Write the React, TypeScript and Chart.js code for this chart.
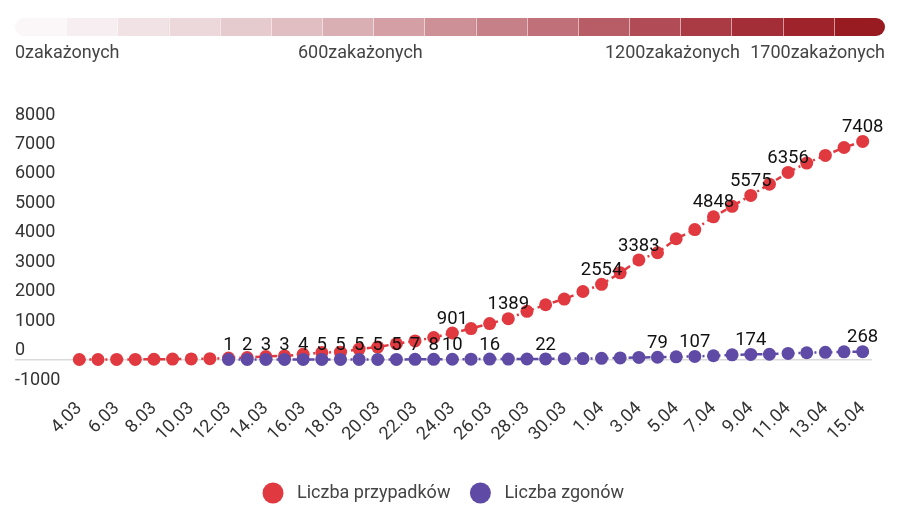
import React, { useEffect, useRef } from 'react';
import { Chart, registerables } from 'chart.js';

Chart.register(...registerables);

// ---- data ----
const dates = [
  '4.03', '5.03', '6.03', '7.03', '8.03', '9.03', '10.03', '11.03', '12.03', '13.03',
  '14.03', '15.03', '16.03', '17.03', '18.03', '19.03', '20.03', '21.03', '22.03', '23.03',
  '24.03', '25.03', '26.03', '27.03', '28.03', '29.03', '30.03', '31.03', '1.04', '2.04',
  '3.04', '4.04', '5.04', '6.04', '7.04', '8.04', '9.04', '10.04', '11.04', '12.04',
  '13.04', '14.04', '15.04',
];

const cases = [
  1, 1, 5, 5, 11, 16, 22, 31, 51, 68,
  104, 125, 177, 238, 251, 355, 425, 536, 634, 749,
  901, 1051, 1221, 1389, 1638, 1862, 2055, 2311, 2554, 2946,
  3383, 3627, 4102, 4413, 4848, 5205, 5575, 5955, 6356, 6674,
  6934, 7202, 7408,
];

const deaths = [
  null, null, null, null, null, null, null, null, 1, 2,
  3, 3, 4, 5, 5, 5, 5, 5, 7, 8,
  10, 14, 16, 17, 18, 22, 31, 33, 43, 57,
  71, 79, 94, 107, 129, 159, 174, 181, 208, 232,
  245, 263, 268,
];

const casesLabelDates = ['24.03', '27.03', '1.04', '3.04', '7.04', '9.04', '11.04', '15.04'];
const deathsLabelDates = [
  '12.03', '13.03', '14.03', '15.03', '16.03', '17.03', '18.03', '19.03', '20.03', '21.03',
  '22.03', '23.03', '24.03', '26.03', '29.03', '4.04', '6.04', '9.04', '15.04',
];

const seriesNames = ['Liczba przypadków', 'Liczba zgonów'];
const yTicks = { min: -1000, max: 8000, step: 1000 };

const scaleLabels = ['0zakażonych', '600zakażonych', '1200zakażonych', '1700zakażonych'];

// ---- styles ----
const RED = '#e0393f';
const PURPLE = '#5f4ba6';
const barColors = [
  '#fbf7f8', '#f6eef0', '#f1e3e5', '#ecd7da', '#e6cbce', '#e0bec2', '#daafb4', '#d4a0a6',
  '#cd9097', '#c68087', '#bf7078', '#b85d66', '#b14b55', '#aa3b45', '#a42e37', '#9e232a', '#971b20',
];
const scaleLabelLayout = [
  { x: 15, align: 'left' },
  { x: 298, align: 'left' },
  { x: 605, align: 'left' },
  { x: 885, align: 'right' },
];
const FONT = 'Roboto';

const colorBarPlugin = {
  id: 'colorBar',
  beforeDraw(chart: any) {
    const ctx = chart.ctx as CanvasRenderingContext2D;
    const x0 = 15, x1 = 885, y0 = 18, h = 18;
    ctx.save();
    ctx.beginPath();
    (ctx as any).roundRect(x0, y0, x1 - x0, h, h / 2);
    ctx.clip();
    const w = (x1 - x0) / barColors.length;
    barColors.forEach((c, i) => {
      ctx.fillStyle = c;
      ctx.fillRect(x0 + i * w, y0, w + 0.6, h);
    });
    ctx.strokeStyle = 'rgba(255,255,255,0.55)';
    ctx.lineWidth = 1;
    for (let i = 1; i < barColors.length; i++) {
      ctx.beginPath();
      ctx.moveTo(Math.round(x0 + i * w) + 0.5, y0);
      ctx.lineTo(Math.round(x0 + i * w) + 0.5, y0 + h);
      ctx.stroke();
    }
    ctx.restore();

    ctx.save();
    ctx.font = `18px ${FONT}`;
    ctx.fillStyle = '#444';
    ctx.textBaseline = 'middle';
    scaleLabels.forEach((t, i) => {
      ctx.textAlign = scaleLabelLayout[i].align as CanvasTextAlign;
      ctx.fillText(t, scaleLabelLayout[i].x, 53);
    });
    ctx.restore();
  },
};

const dataLabelPlugin = {
  id: 'dataLabels',
  afterDatasetsDraw(chart: any) {
    const ctx = chart.ctx as CanvasRenderingContext2D;
    const lists = [casesLabelDates, deathsLabelDates];
    ctx.save();
    ctx.font = `18.5px ${FONT}`;
    ctx.fillStyle = '#111';
    ctx.textAlign = 'center';
    ctx.textBaseline = 'middle';
    chart.data.datasets.forEach((ds: any, di: number) => {
      const meta = chart.getDatasetMeta(di);
      lists[di].forEach((d) => {
        const i = dates.indexOf(d);
        const pt = meta.data[i];
        const v = ds.data[i];
        if (!pt || v == null) return;
        ctx.fillText(String(v), pt.x, pt.y - 14);
      });
    });
    ctx.restore();
  },
};

const legendPlugin = {
  id: 'customLegend',
  afterDraw(chart: any) {
    const ctx = chart.ctx as CanvasRenderingContext2D;
    ctx.save();
    ctx.font = `18px ${FONT}`;
    ctx.textBaseline = 'middle';
    ctx.textAlign = 'left';
    let x = 263;
    const y = 493;
    chart.data.datasets.forEach((ds: any) => {
      ctx.fillStyle = ds.pointBackgroundColor;
      ctx.beginPath();
      ctx.arc(x + 10, y, 10.5, 0, Math.PI * 2);
      ctx.fill();
      ctx.fillStyle = '#444';
      ctx.fillText(ds.label, x + 34, y);
      x += 34 + ctx.measureText(ds.label).width + 20;
    });
    ctx.restore();
  },
};

export default function App() {
  const ref = useRef<HTMLCanvasElement | null>(null);

  useEffect(() => {
    if (!ref.current) return;
    const chart = new Chart(ref.current, {
      type: 'line',
      data: {
        labels: dates,
        datasets: [
          {
            label: seriesNames[0],
            data: cases,
            borderColor: RED,
            backgroundColor: RED,
            pointBackgroundColor: RED,
            pointBorderWidth: 0,
            pointRadius: 6.5,
            borderWidth: 2.5,
            borderDash: [6, 4, 2, 4],
            order: 1,
          },
          {
            label: seriesNames[1],
            data: deaths,
            borderColor: PURPLE,
            backgroundColor: PURPLE,
            pointBackgroundColor: PURPLE,
            pointBorderWidth: 0,
            pointRadius: 6.5,
            borderWidth: 2.5,
            borderDash: [6, 4, 2, 4],
            order: 0,
          },
        ],
      },
      options: {
        animation: false,
        responsive: true,
        maintainAspectRatio: false,
        layout: { padding: { top: 124, left: 15, right: 35, bottom: 56 } },
        plugins: {
          legend: { display: false },
          tooltip: { enabled: false },
        },
        events: [],
        scales: {
          x: {
            offset: true,
            grid: { display: false, drawTicks: false },
            border: { display: false },
            ticks: {
              autoSkip: false,
              maxRotation: 45,
              minRotation: 45,
              padding: 9,
              color: '#333',
              font: { family: FONT, size: 18 },
              callback: (_v: any, i: number) => (i % 2 === 0 ? dates[i] : ''),
            },
            afterFit: (s: any) => { s.height = 60; },
          },
          y: {
            min: yTicks.min,
            max: yTicks.max,
            ticks: {
              stepSize: yTicks.step,
              labelOffset: -9,
              crossAlign: 'far',
              padding: 0,
              color: '#333',
              font: { family: FONT, size: 18 },
              callback: (v: any) => String(v),
            },
            grid: {
              color: (c: any) => (c.tick && c.tick.value === 0 ? '#dadada' : 'rgba(0,0,0,0)'),
              lineWidth: 1.5,
              tickLength: 55,
              drawTicks: true,
            },
            border: { display: false },
            afterFit: (s: any) => { s.width = 55; },
          },
        },
      },
      plugins: [colorBarPlugin, dataLabelPlugin, legendPlugin],
    });
    return () => chart.destroy();
  }, []);

  return (
    <div style={{ position: 'absolute', left: 0, top: 0, width: 907, height: 505, background: '#fff' }}>
      <canvas ref={ref} />
    </div>
  );
}
